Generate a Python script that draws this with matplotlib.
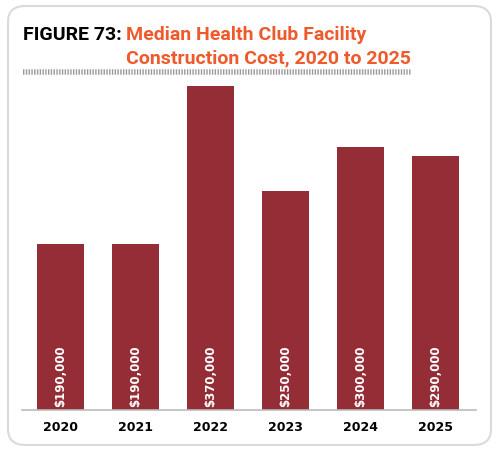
import matplotlib
matplotlib.use("Agg")
import matplotlib.pyplot as plt
import matplotlib.patches as mpatches
from matplotlib.lines import Line2D

years = ["2020", "2021", "2022", "2023", "2024", "2025"]
costs = [190000, 190000, 370000, 250000, 300000, 290000]
cost_labels = ["$190,000", "$190,000", "$370,000", "$250,000", "$300,000", "$290,000"]

bar_color = "#952D36"
title_orange = "#EE5A2C"

W, H = 498, 452
fig = plt.figure(figsize=(W / 100, H / 100), dpi=100)

# rounded frame round the whole figure
frame = mpatches.FancyBboxPatch((8 / W, 6 / H), 483 / W, 439 / H,
                                boxstyle="round,pad=0,rounding_size=0.035",
                                transform=fig.transFigure, fill=False,
                                edgecolor="#DADADA", linewidth=1.5)
fig.patches.append(frame)

# title
fig.text(23 / W, 1 - 40 / H, "FIGURE 73:", fontsize=14, fontweight="bold",
         color="black", family="Roboto", va="baseline", ha="left")
fig.text(126 / W, 1 - 40 / H, "Median Health Club Facility", fontsize=14,
         fontweight="bold", color=title_orange, family="Roboto", va="baseline", ha="left")
fig.text(126 / W, 1 - 63 / H, "Construction Cost, 2020 to 2025", fontsize=14,
         fontweight="bold", color=title_orange, family="Roboto", va="baseline", ha="left")

# dotted separator
sep = Line2D([23 / W, 411 / W], [1 - 73 / H, 1 - 73 / H], transform=fig.transFigure,
             color="#9A9A9A", linewidth=4, linestyle=(0, (0.25, 0.25)))
fig.lines.append(sep)

ax = fig.add_axes([22 / W, 41 / H, 454 / W, 331 / H])
x = list(range(len(years)))
bars = ax.bar(x, costs, width=0.63, color=bar_color)

for xi, lab in zip(x, cost_labels):
    ax.text(xi, 5000, lab, rotation=90, ha="center", va="bottom",
            color="white", fontsize=8.5, fontweight="bold", family="DejaVu Sans")

ax.set_xlim(-0.513, 5.54)
ax.set_ylim(0, 378000)
ax.set_xticks(x)
ax.set_xticklabels(years, fontsize=9, fontweight="bold", family="DejaVu Sans")
ax.tick_params(axis="x", length=0, pad=7)
ax.set_yticks([])
for s in ["top", "right", "left"]:
    ax.spines[s].set_visible(False)
ax.spines["bottom"].set_color("#BBBBBB")
ax.spines["bottom"].set_linewidth(1.2)

fig.savefig("out.png", dpi=100)
